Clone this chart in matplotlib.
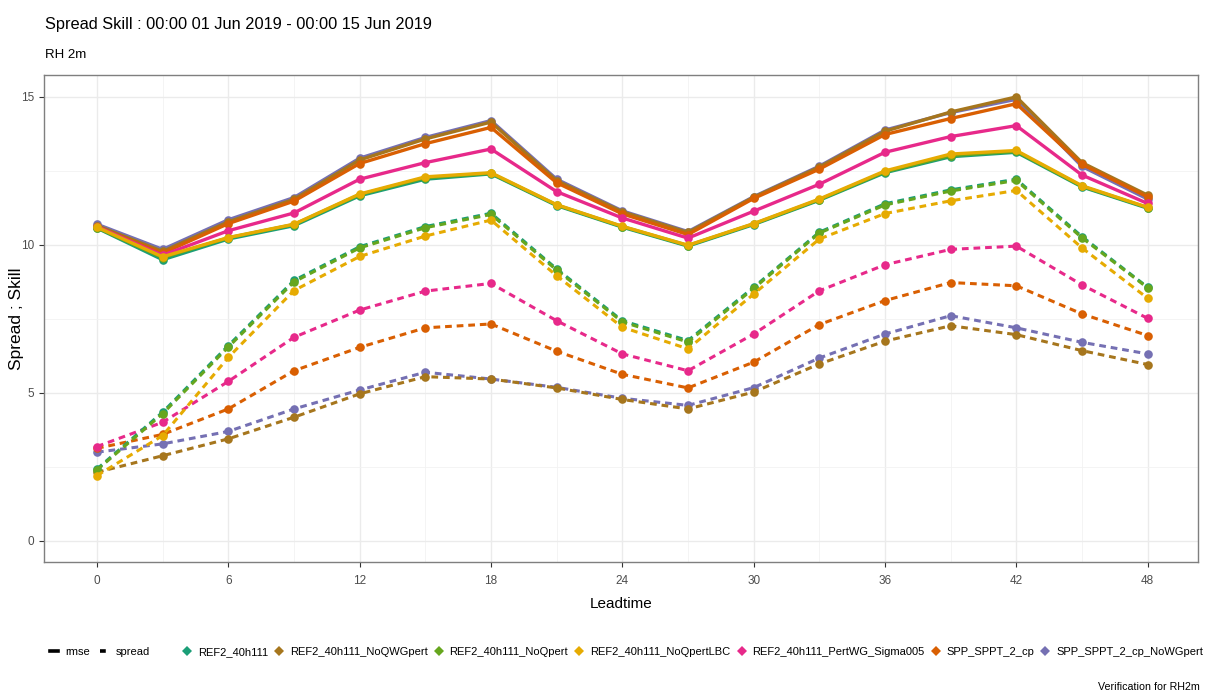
import matplotlib
matplotlib.use("Agg")
import matplotlib.pyplot as plt
from matplotlib import font_manager
from matplotlib.lines import Line2D

# ---- font: narrow sans if available ----
names = {f.name for f in font_manager.fontManager.ttflist}
FONT = "Liberation Sans Narrow" if "Liberation Sans Narrow" in names else "Liberation Sans"
plt.rcParams["font.family"] = [FONT, "DejaVu Sans"]

# ---- data ----
leadtime = [0, 3, 6, 9, 12, 15, 18, 21, 24, 27, 30, 33, 36, 39, 42, 45, 48]

models = ["REF2_40h111", "REF2_40h111_NoQWGpert", "REF2_40h111_NoQpert",
          "REF2_40h111_NoQpertLBC", "REF2_40h111_PertWG_Sigma005",
          "SPP_SPPT_2_cp", "SPP_SPPT_2_cp_NoWGpert"]
colors = ["#1B9E77", "#A6761D", "#66A61E", "#E6AB02", "#E7298A", "#D95F02", "#7570B3"]

rmse_ref = [10.57, 9.50, 10.20, 10.65, 11.66, 12.22, 12.40, 11.33, 10.60, 9.96, 10.69, 11.51, 12.44, 12.98, 13.13, 11.96, 11.24]
rmse_noqwg = [10.65, 9.78, 10.78, 11.54, 12.87, 13.58, 14.15, 12.17, 11.12, 10.42, 11.61, 12.63, 13.84, 14.49, 15.00, 12.78, 11.68]
rmse_noq = [10.58, 9.57, 10.24, 10.69, 11.70, 12.27, 12.42, 11.35, 10.62, 9.98, 10.71, 11.53, 12.47, 13.02, 13.16, 11.98, 11.26]
rmse_noqlbc = [10.60, 9.60, 10.25, 10.70, 11.72, 12.30, 12.44, 11.36, 10.63, 9.99, 10.72, 11.55, 12.50, 13.07, 13.19, 12.00, 11.27]
rmse_pertwg = [10.62, 9.65, 10.48, 11.08, 12.22, 12.78, 13.24, 11.80, 10.91, 10.23, 11.14, 12.05, 13.13, 13.66, 14.03, 12.36, 11.40]
rmse_sppt = [10.60, 9.72, 10.72, 11.48, 12.75, 13.42, 13.97, 12.10, 11.05, 10.35, 11.57, 12.56, 13.73, 14.27, 14.77, 12.72, 11.62]
rmse_sppt_nowg = [10.70, 9.85, 10.85, 11.60, 12.93, 13.63, 14.20, 12.22, 11.15, 10.45, 11.63, 12.66, 13.88, 14.47, 14.92, 12.65, 11.55]

spread_ref = [2.43, 4.35, 6.60, 8.80, 9.94, 10.62, 11.07, 9.19, 7.44, 6.77, 8.57, 10.43, 11.39, 11.86, 12.22, 10.28, 8.57]
spread_noqwg = [2.32, 2.88, 3.45, 4.18, 4.97, 5.55, 5.47, 5.17, 4.78, 4.46, 5.03, 5.98, 6.75, 7.27, 6.97, 6.43, 5.96]
spread_noq = [2.40, 4.30, 6.55, 8.75, 9.90, 10.58, 11.03, 9.15, 7.40, 6.72, 8.53, 10.40, 11.35, 11.82, 12.18, 10.24, 8.55]
spread_noqlbc = [2.21, 3.56, 6.20, 8.46, 9.61, 10.30, 10.84, 8.96, 7.22, 6.49, 8.34, 10.20, 11.06, 11.49, 11.84, 9.90, 8.20]
spread_pertwg = [3.19, 4.01, 5.39, 6.88, 7.80, 8.44, 8.70, 7.44, 6.32, 5.75, 6.99, 8.45, 9.33, 9.85, 9.96, 8.65, 7.52]
spread_sppt = [3.13, 3.60, 4.46, 5.75, 6.54, 7.20, 7.33, 6.41, 5.63, 5.17, 6.04, 7.31, 8.12, 8.73, 8.62, 7.67, 6.94]
spread_sppt_nowg = [3.00, 3.28, 3.70, 4.46, 5.10, 5.70, 5.47, 5.19, 4.82, 4.58, 5.18, 6.18, 6.99, 7.61, 7.20, 6.71, 6.32]

rmse = [rmse_ref, rmse_noqwg, rmse_noq, rmse_noqlbc, rmse_pertwg, rmse_sppt, rmse_sppt_nowg]
spread = [spread_ref, spread_noqwg, spread_noq, spread_noqlbc, spread_pertwg, spread_sppt, spread_sppt_nowg]

# ---- figure ----
fig = plt.figure(figsize=(12.09, 6.96), dpi=100)
ax = fig.add_axes([44 / 1209, 134 / 696, 1154 / 1209, 487 / 696])

draw_order = [6, 1, 5, 4, 0, 2, 3]
dash = (0, (2.2, 1.6))
for i in draw_order:
    ax.plot(leadtime, spread[i], color=colors[i], lw=2.2, ls=dash,
            marker="o", ms=6.2, mew=0, zorder=2)
for i in draw_order:
    ax.plot(leadtime, rmse[i], color=colors[i], lw=2.4, ls="-",
            marker="o", ms=6.2, mew=0, zorder=3)

ax.set_xlim(-2.42, 50.3)
ax.set_ylim(-0.71, 15.74)
ax.set_xticks(range(0, 49, 6))
ax.set_xticks(range(3, 49, 6), minor=True)
ax.set_yticks([0, 5, 10, 15])
ax.set_yticks([2.5, 7.5, 12.5], minor=True)
ax.grid(True, which="major", color="#EBEBEB", lw=1.0)
ax.grid(True, which="minor", color="#F2F2F2", lw=0.6)
ax.set_axisbelow(True)
ax.tick_params(which="major", length=3.5, color="#333333", labelsize=8.5,
               labelcolor="#4D4D4D", width=0.8)
ax.tick_params(axis="x", pad=6)
ax.tick_params(which="minor", length=0)
for s in ax.spines.values():
    s.set_color("#7F7F7F")
    s.set_linewidth(1.0)

ax.set_xlabel("Leadtime", fontsize=11, labelpad=7)
ax.set_ylabel("Spread ; Skill", fontsize=12.5, family=["Liberation Sans", "DejaVu Sans"])
ax.yaxis.set_label_coords(-20 / 1154, 0.5)

fig.text(45 / 1209, 1 - 25 / 696, "Spread Skill : 00:00 01 Jun 2019 - 00:00 15 Jun 2019",
         fontsize=11.8, va="center", ha="left")
fig.text(45 / 1209, 1 - 55 / 696, "RH 2m", fontsize=9.5, va="center", ha="left")
fig.text(1200 / 1209, 1 - 687 / 696, "Verification for RH2m", fontsize=7.7,
         va="center", ha="right")

# ---- legends ----
lt_handles = [Line2D([], [], color="black", lw=2.6, ls="-"),
              Line2D([], [], color="black", lw=2.6, ls=(0, (1.6, 5.0)))]
fig.legend(lt_handles, ["rmse", "spread"], loc="center left",
           bbox_to_anchor=(42 / 1209, 1 - 652 / 696), ncol=2, frameon=False,
           fontsize=8, handlelength=0.7, handletextpad=0.7, columnspacing=0.9,
           borderpad=0.2)
col_handles = [Line2D([], [], color=c, ls="none", marker="D", ms=5.5, mew=0) for c in colors]
fig.legend(col_handles, models, loc="center left",
           bbox_to_anchor=(175 / 1209, 1 - 652 / 696), ncol=7, frameon=False,
           fontsize=8, handlelength=0.8, handletextpad=0.55, columnspacing=0.62,
           borderpad=0.2)

fig.savefig("out.png", dpi=100)
